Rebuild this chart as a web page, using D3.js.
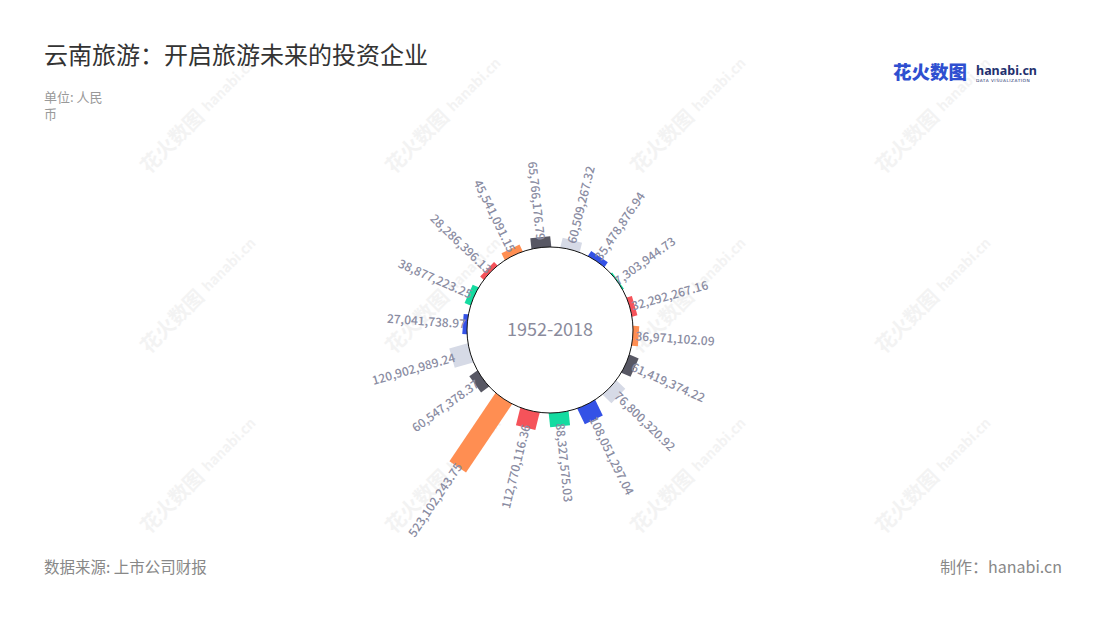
<!DOCTYPE html>
<html><head><meta charset="utf-8">
<script src="https://cdn.jsdelivr.net/npm/d3@7"></script>
<style>body{margin:0;background:#fff}svg{display:block}</style>
</head><body><svg id="c" width="1100" height="620"></svg>
<script>
const companies = d3.range(1, 19).map(i => "企业" + i);
const values = [65766176.79, 60509267.32, 35478876.94, 7303944.73, 32292267.16, 36971102.09,
  61419374.22, 76800320.92, 108051297.04, 88327575.03, 112770116.36, 523102243.75,
  60547378.37, 120902989.24, 27041738.97, 38877223.25, 28286396.13, 45541091.15];
const palette = ["#585864", "#d6dae6", "#3452e6", "#14dba0", "#f5535a", "#ff8e52"];
const title = "云南旅游：开启旅游未来的投资企业";
const unitLines = ["单位: 人民", "币"];
const centerText = "1952-2018";
const source = "数据来源: 上市公司财报";
const credit = "制作：hanabi.cn";

const svg = d3.select("#c");
const FONT = "'Noto Sans CJK SC','Noto Sans',sans-serif";

// watermarks
const wmX = [180, 425, 670, 915], wmY = [135, 315, 495];
wmY.forEach(wy => wmX.forEach(wx => {
  const g = svg.append("g").attr("transform", `translate(${wx},${wy}) rotate(-45)`).attr("opacity", 0.45);
  g.append("text").attr("x", -50).attr("y", 6).attr("font-family", FONT).attr("font-weight", 700)
    .attr("font-size", 20).attr("fill", "#e6e6e6").text("花火数图");
  g.append("text").attr("x", 36).attr("y", 4).attr("font-family", FONT).attr("font-weight", 700)
    .attr("font-size", 14).attr("fill", "#e6e6e6").text("hanabi.cn");
}));

// title etc
svg.append("text").attr("x", 44).attr("y", 64).attr("font-family", FONT).attr("font-size", 24)
  .attr("fill", "#333").text(title);
unitLines.forEach((t, i) => svg.append("text").attr("x", 44).attr("y", 102 + i * 17)
  .attr("font-family", FONT).attr("font-size", 13).attr("fill", "#999").text(t));
svg.append("text").attr("x", 44).attr("y", 573).attr("font-family", FONT).attr("font-size", 15.5)
  .attr("fill", "#888").text(source);
svg.append("text").attr("x", 1062).attr("y", 573).attr("text-anchor", "end").attr("font-family", FONT)
  .attr("font-size", 16).attr("fill", "#888").text(credit);

// logo
svg.append("text").attr("x", 893).attr("y", 79).attr("font-family", FONT).attr("font-weight", 900)
  .attr("font-size", 18.5).attr("fill", "#2f4fd0").text("花火数图");
svg.append("text").attr("x", 976).attr("y", 75).attr("font-family", "'Noto Sans',sans-serif").attr("font-weight", 700)
  .attr("font-size", 12.5).attr("fill", "#23306e").text("hanabi.cn");
svg.append("text").attr("x", 976).attr("y", 82).attr("font-family", "'DejaVu Sans',sans-serif")
  .attr("font-size", 4.3).attr("fill", "#23306e").attr("letter-spacing", 0.5).text("DATA VISUALIZATION");

// radial bars
const cx = 550, cy = 330, innerR = 83, outerR = 165;
const ang = d3.scaleBand().domain(d3.range(values.length)).range([-16, 344]);
const r = d3.scaleLinear().domain([0, d3.max(values)]).range([innerR, outerR]);
const color = d3.scaleOrdinal().domain(d3.range(6)).range(palette);
const fmt = d3.format(",.2f");
const center = i => ang(i) + ang.bandwidth() / 2;

const g = svg.append("g").attr("transform", `translate(${cx},${cy})`);
g.selectAll("rect.bar").data(values).join("rect").attr("class", "bar")
  .attr("transform", (d, i) => `rotate(${center(i)})`)
  .attr("x", -10).attr("width", 20)
  .attr("y", d => -r(d)).attr("height", d => r(d) - innerR + 3)
  .attr("fill", (d, i) => color(i % 6));

g.selectAll("text.lab").data(values).join("text").attr("class", "lab")
  .attr("transform", (d, i) => {
    let a = center(i);
    const rr = r(d) - 3;
    if (a > 0 && a < 180) return `rotate(${a - 90}) translate(${rr},0)`;
    return `rotate(${a + 90}) translate(${-rr},0)`;
  })
  .attr("text-anchor", (d, i) => { const a = center(i); return (a > 0 && a < 180) ? "start" : "end"; })
  .attr("dy", "0.35em").attr("font-family", FONT).attr("font-size", 12).attr("font-weight", 500)
  .attr("fill", "#8a8ca2")
  .text(d => fmt(d));

g.append("circle").attr("r", innerR).attr("fill", "#fff").attr("stroke", "#111").attr("stroke-width", 1);
g.append("text").attr("y", 0).attr("dy", "0.35em").attr("text-anchor", "middle").attr("font-family", FONT)
  .attr("font-size", 18).attr("fill", "#8a8b9c").text(centerText);
</script></body></html>
